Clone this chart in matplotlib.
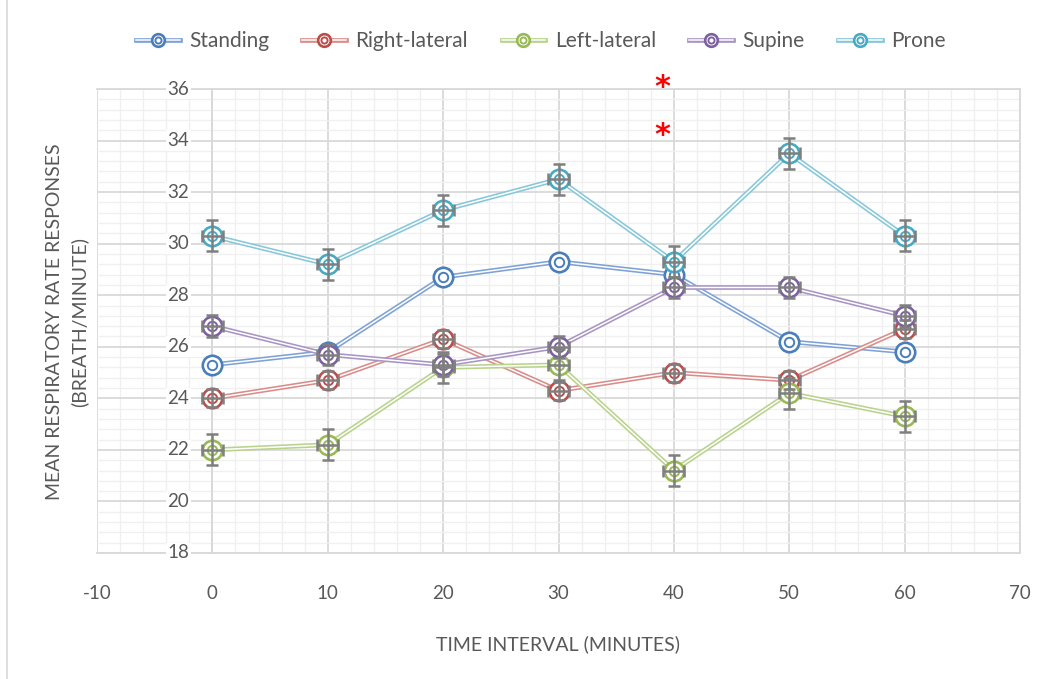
import matplotlib
matplotlib.use("Agg")
import matplotlib.pyplot as plt
import matplotlib.patheffects as pe
from matplotlib.ticker import MultipleLocator, NullFormatter
from matplotlib.legend_handler import HandlerTuple
from matplotlib.lines import Line2D

plt.rcParams['font.family'] = ['Lato', 'DejaVu Sans']
plt.rcParams['axes.unicode_minus'] = False

time = [0, 10, 20, 30, 40, 50, 60]
series_names = ["Standing", "Right-lateral", "Left-lateral", "Supine", "Prone"]
standing = [25.3, 25.8, 28.7, 29.3, 28.8, 26.2, 25.8]
right_lateral = [24.0, 24.7, 26.3, 24.3, 25.0, 24.7, 26.7]
left_lateral = [22.0, 22.2, 25.2, 25.3, 21.2, 24.2, 23.3]
supine = [26.8, 25.7, 25.3, 26.0, 28.3, 28.3, 27.2]
prone = [30.3, 29.2, 31.3, 32.5, 29.3, 33.5, 30.3]
y_err = [None, 0.35, 0.6, 0.42, 0.6]
x_err = 0.9
y_ticks = [18, 20, 22, 24, 26, 28, 30, 32, 34, 36]
marker_colors = ["#4a7ebb", "#be4b48", "#98b954", "#7d60a0", "#46aac5"]
line_colors = ["#7ea2d6", "#d98c8a", "#b9d38c", "#a895c3", "#86c7da"]
asterisk_x = [39, 39]
asterisk_y = [36.06, 34.21]

data = [standing, right_lateral, left_lateral, supine, prone]
text_color = "#595959"

fig = plt.figure(figsize=(10.54, 6.79), dpi=100)
ax = fig.add_axes([97 / 1054, 1 - 553 / 679, (1020 - 97) / 1054, (553 - 89) / 679])

ax.set_xlim(-10, 70)
ax.set_ylim(18, 36)
ax.xaxis.set_major_locator(MultipleLocator(10))
ax.xaxis.set_minor_locator(MultipleLocator(2))
ax.set_yticks(y_ticks)
ax.yaxis.set_minor_locator(MultipleLocator(0.4))
ax.yaxis.set_major_formatter(NullFormatter())
ax.grid(which='major', color='#d9d9d9', linewidth=1.3, zorder=0)
ax.grid(which='minor', color='#f0f0f0', linewidth=1.0, zorder=0)
ax.set_axisbelow(True)
for s in ax.spines.values():
    s.set_color('#d9d9d9')
    s.set_linewidth(1.3)
ax.spines['left'].set_position(('data', 0))
ax.tick_params(which='both', length=0)
ax.tick_params(axis='x', labelsize=13.5, labelcolor=text_color, pad=23)

# y tick labels, placed left of the y axis (which crosses at x = 0), with white background
for yt in y_ticks:
    ax.text(-2.94, yt, str(yt), ha='center', va='center', fontsize=13.5,
            color=text_color, zorder=8, clip_on=False,
            bbox=dict(boxstyle='square,pad=0.1', facecolor='white', edgecolor='none'))

handles = []
for name, vals, err, mc, lc in zip(series_names, data, y_err, marker_colors, line_colors):
    ln, = ax.plot(time, vals, color=lc, linewidth=1.0,
                  path_effects=[pe.Stroke(linewidth=3.4, foreground=lc),
                                pe.Stroke(linewidth=1.1, foreground='white')],
                  zorder=3, label=name)
    outer, = ax.plot(time, vals, linestyle='none', marker='o', markersize=14,
                     markerfacecolor='white', markeredgecolor=mc,
                     markeredgewidth=1.9, zorder=4)
    inner, = ax.plot(time, vals, linestyle='none', marker='o', markersize=6.8,
                     markerfacecolor='none', markeredgecolor=mc,
                     markeredgewidth=1.4, zorder=4)
    if err is not None:
        ax.errorbar(time, vals, yerr=err, xerr=x_err, fmt='none',
                    ecolor='#7f7f7f', elinewidth=1.8, capsize=4.5,
                    capthick=1.8, zorder=5)
    handles.append((ln, outer, inner))

for xs, ys in zip(asterisk_x, asterisk_y):
    ax.text(xs, ys, '*', color='red', fontsize=22, ha='center', va='center',
            clip_on=False, fontweight='bold', family='DejaVu Sans', zorder=9)

ax.set_xlabel("TIME INTERVAL (MINUTES)", fontsize=14, color=text_color, labelpad=24)
fig.text(67 / 1054, 1 - 322 / 679, "MEAN RESPIRATORY RATE RESPONSES\n(BREATH/MINUTE)",
         rotation=90, ha='center', va='center', fontsize=14, color=text_color,
         linespacing=1.5, multialignment='center')

leg = fig.legend(handles, series_names, handler_map={tuple: HandlerTuple(ndivide=1, pad=0)},
                 loc='center', bbox_to_anchor=(0.513, 1 - 41 / 679), ncol=5,
                 frameon=False, fontsize=15, handlelength=2.1, columnspacing=1.6,
                 handletextpad=0.45, labelcolor=text_color, markerscale=0.65)

fig.add_artist(Line2D([7 / 1054, 7 / 1054], [0, 1], color='#d9d9d9', linewidth=1.2,
                      transform=fig.transFigure))

fig.savefig("out.png", dpi=100)
